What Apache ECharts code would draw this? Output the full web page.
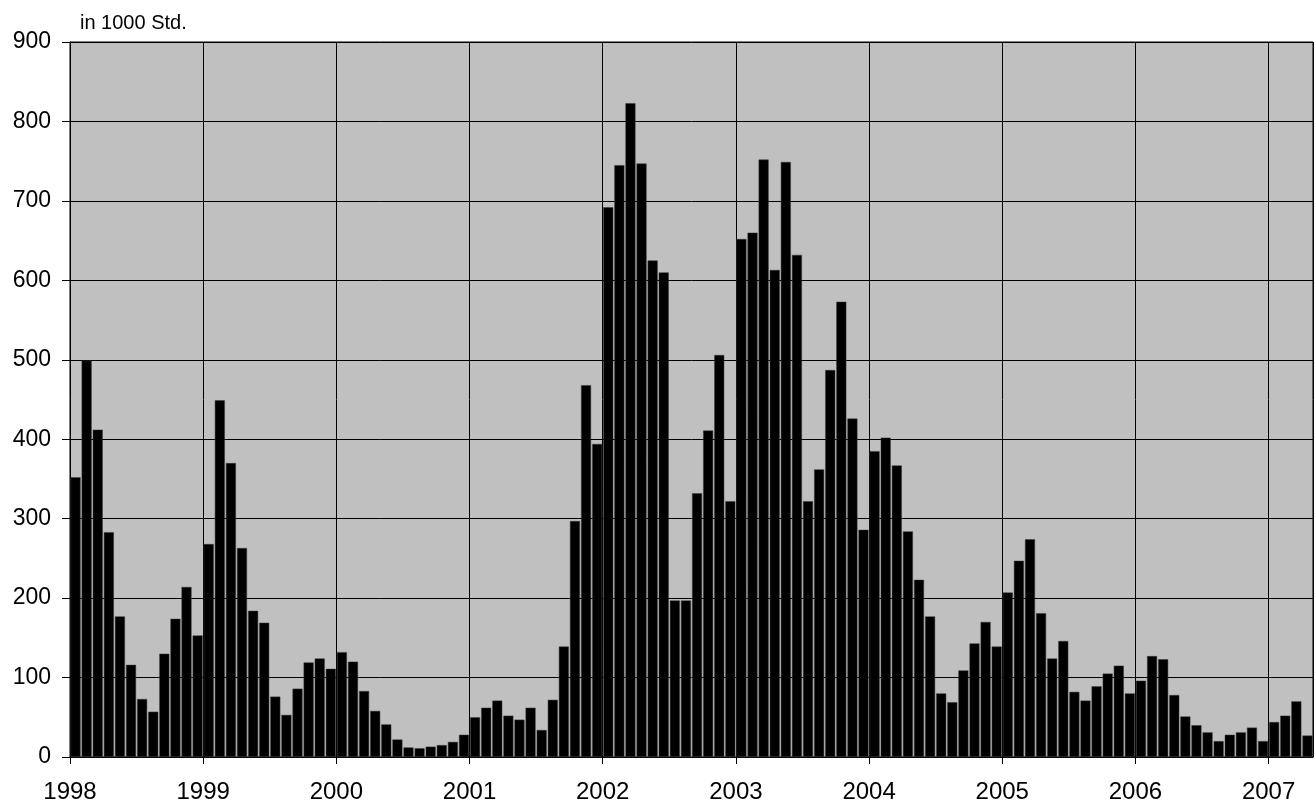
<!DOCTYPE html>
<html>
<head>
<meta charset="utf-8">
<script src="https://cdn.jsdelivr.net/npm/echarts@6/dist/echarts.min.js"></script>
<style>html,body{margin:0;padding:0;background:#fff}#c{width:1315px;height:805px}</style>
</head>
<body>
<div id="c"></div>
<script>
var yearLabels = ['1998','1999','2000','2001','2002','2003','2004','2005','2006','2007'];
var monthsInYear = [12,12,12,12,12,12,12,12,12,4];
var values1998 = [352, 499, 412, 283, 177, 116, 73, 57, 130, 174, 214, 153];
var values1999 = [268, 449, 370, 263, 184, 169, 76, 53, 86, 119, 124, 111];
var values2000 = [132, 120, 83, 58, 41, 22, 12, 11, 13, 15, 19, 28];
var values2001 = [50, 62, 71, 52, 47, 62, 34, 72, 139, 297, 468, 394];
var values2002 = [692, 745, 823, 747, 625, 610, 197, 197, 332, 411, 506, 322];
var values2003 = [652, 660, 752, 613, 749, 632, 322, 362, 487, 573, 426, 286];
var values2004 = [385, 402, 367, 284, 223, 177, 80, 69, 109, 143, 170, 139];
var values2005 = [207, 247, 274, 181, 124, 146, 82, 71, 89, 105, 115, 80];
var values2006 = [96, 127, 123, 78, 51, 40, 31, 20, 28, 31, 37, 20];
var values2007 = [44, 52, 70, 27];
var yTicks = [0,100,200,300,400,500,600,700,800,900];
var unitLabel = 'in 1000 Std.';

var values = [].concat(values1998, values1999, values2000, values2001, values2002,
  values2003, values2004, values2005, values2006, values2007);
var categories = [];
yearLabels.forEach(function (y, i) {
  for (var m = 1; m <= monthsInYear[i]; m++) categories.push(y + '-' + (m < 10 ? '0' : '') + m);
});
var nCat = categories.length;

var chart = echarts.init(document.getElementById('c'));
var font = 'Liberation Sans, Arial, sans-serif';
chart.setOption({
  animation: false,
  textStyle: {fontFamily: font},
  title: {
    text: unitLabel, left: 75, top: 8,
    textStyle: {fontSize: 20, fontWeight: 'normal', color: '#000', fontFamily: font}
  },
  grid: {
    left: 70, right: 2, top: 42, bottom: 48,
    show: true, backgroundColor: '#C0C0C0', borderColor: '#000', borderWidth: 1
  },
  xAxis: [{
    type: 'category', data: categories, boundaryGap: true,
    axisLine: {show: true, lineStyle: {color: '#000'}},
    axisTick: {show: false},
    axisLabel: {show: false},
    splitLine: {show: true, interval: 11, lineStyle: {color: '#000', width: 1}}
  }, {
    type: 'value', position: 'bottom', min: 0, max: nCat, interval: 12,
    axisLine: {show: false},
    axisTick: {show: true, length: 7, lineStyle: {color: '#000'}},
    splitLine: {show: false},
    axisLabel: {
      fontSize: 24, color: '#000', margin: 23, fontFamily: font,
      showMaxLabel: false,
      formatter: function (v) { var i = Math.round(v / 12); return (v % 12 === 0 && yearLabels[i]) ? yearLabels[i] : ''; }
    }
  }],
  yAxis: {
    type: 'value', min: yTicks[0], max: yTicks[yTicks.length - 1], interval: 100,
    axisLine: {show: true, lineStyle: {color: '#000'}},
    axisTick: {show: true, length: 8, lineStyle: {color: '#000'}},
    axisLabel: {fontSize: 23, color: '#000', margin: 19, fontFamily: font},
    splitLine: {show: true, lineStyle: {color: '#000', width: 1}}
  },
  series: [{
    type: 'bar', xAxisIndex: 0, data: values,
    barCategoryGap: '10%',
    itemStyle: {color: '#000', borderColor: '#3a3a3a', borderWidth: 0.5}
  }]
});
</script>
</body>
</html>
